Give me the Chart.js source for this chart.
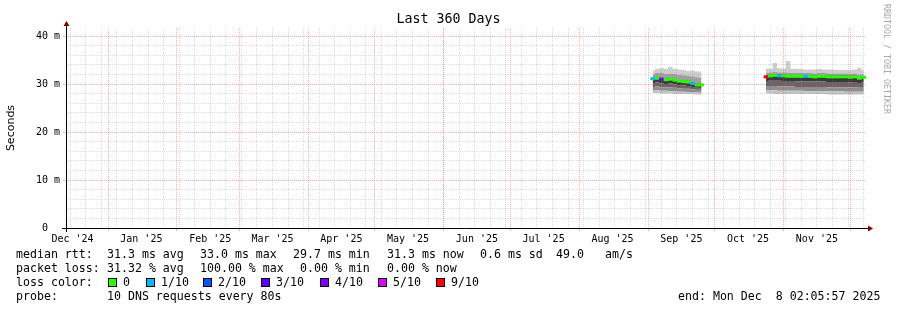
<!DOCTYPE html>
<html>
<head>
<meta charset="utf-8">
<script src="https://cdn.jsdelivr.net/npm/chart.js@4.4.0/dist/chart.umd.min.js"></script>
<style>
  html, body { margin: 0; padding: 0; background: #fff; }
  #wrap { position: relative; width: 897px; height: 310px; overflow: hidden;
          font-family: 'DejaVu Sans Mono', monospace; color: #000; }
  #wrap canvas { position: absolute; left: 0; top: 0; }
  .t { position: absolute; white-space: pre; font-size: 11.6px; line-height: 14px; }
  .sq { position: absolute; width: 7px; height: 7px; border: 1px solid #000; }
  #title { position: absolute; left: 0; top: 11px; width: 897px; text-align: center;
           font-size: 13.3px; line-height: 16px; }
  #ylab { position: absolute; left: -39px; top: 121px; width: 100px; text-align: center;
          font-family: 'DejaVu Sans', sans-serif; font-size: 11px; line-height: 14px;
          transform: rotate(-90deg); }
  #mark { position: absolute; left: 882px; top: 4px; writing-mode: vertical-rl;
          font-size: 8.3px; line-height: 9px; color: #a8a8a8; white-space: pre; }
</style>
</head>
<body>
<div id="wrap">
  <canvas id="graph" width="897" height="310"></canvas>
  <div id="title">Last 360 Days</div>
  <div id="ylab">Seconds</div>
  <div id="mark">RRDTOOL / TOBI OETIKER</div>
  <div id="legend"></div>
</div>
<script>
// 360 days ending Mon Dec 8 02:05:57 2025; x values are days since the start
const rangeStart = Date.UTC(2024, 11, 13, 2, 5, 57);
const rangeDays = 360;
const DAY = 86400000;

const monthStarts = ['2024-12-01', '2025-01-01', '2025-02-01', '2025-03-01', '2025-04-01', '2025-05-01',
  '2025-06-01', '2025-07-01', '2025-08-01', '2025-09-01', '2025-10-01', '2025-11-01', '2025-12-01'];
const monthLabels = ["Dec '24", "Jan '25", "Feb '25", "Mar '25", "Apr '25", "May '25",
  "Jun '25", "Jul '25", "Aug '25", "Sep '25", "Oct '25", "Nov '25"];
const firstSunday = '2024-12-15';
const yMax = 41.667; // ms

// smoke, first block (early Sep 2025)
const seg1Days = [264, 266, 268, 270, 272, 274, 276, 278, 280, 282, 284, 286];
const seg1Min  = [28.1, 28.1, 28.0, 28.0, 28.0, 27.9, 27.9, 27.9, 27.9, 27.9, 27.8, 27.8];
const seg1E1   = [28.6, 28.7, 28.6, 28.6, 28.5, 28.5, 28.4, 28.4, 28.3, 28.3, 28.3, 28.2];
const seg1E2   = [29.4, 29.5, 29.3, 29.3, 29.3, 29.2, 29.1, 29.0, 29.0, 28.9, 28.8, 28.7];
const seg1E3   = [30.2, 30.3, 30.1, 30.0, 30.1, 29.9, 29.8, 29.7, 29.6, 29.4, 29.2, 29.1];
const seg1E4   = [31.4, 31.5, 31.3, 31.2, 31.3, 31.1, 30.9, 30.8, 30.7, 30.4, 30.1, 30.1];
const seg1E5   = [32.0, 32.3, 32.3, 32.1, 32.2, 32.1, 31.9, 31.8, 31.7, 31.6, 31.4, 31.3];
const seg1Max  = [32.8, 33.2, 33.3, 33.2, 33.6, 33.1, 33.0, 32.9, 32.7, 32.8, 32.6, 32.6];
const seg1Median = [31.1, 31.2, 31.0, 30.9, 31.0, 30.8, 30.6, 30.5, 30.4, 30.1, 29.8, 29.8];
const seg1Loss = [1, 0, 3, 0, 0, 0, 0, 0, 0, 1, 0, 0];

// smoke, second block (late Oct - Dec 2025)
const seg2Days = [315, 317, 319, 321, 323, 325, 327, 329, 331, 333, 335, 337,
  339, 341, 343, 345, 347, 349, 351, 353, 355, 357, 359];
const seg2Min  = [28.0, 28.0, 27.9, 27.9, 27.9, 27.9, 27.9, 27.9, 27.9, 27.9, 27.9, 27.9,
  27.9, 27.9, 27.8, 27.8, 27.8, 27.8, 27.8, 27.8, 27.8, 27.8, 27.8];
const seg2E1   = [28.7, 28.7, 28.7, 28.6, 28.6, 28.6, 28.6, 28.6, 28.6, 28.5, 28.5, 28.5,
  28.5, 28.5, 28.5, 28.5, 28.5, 28.5, 28.4, 28.4, 28.4, 28.4, 28.4];
const seg2E2   = [29.6, 29.6, 29.6, 29.5, 29.5, 29.5, 29.5, 29.4, 29.4, 29.4, 29.4, 29.4,
  29.4, 29.4, 29.3, 29.3, 29.3, 29.3, 29.3, 29.3, 29.3, 29.2, 29.2];
const seg2E3   = [30.6, 30.7, 30.7, 30.7, 30.6, 30.6, 30.6, 30.5, 30.5, 30.5, 30.5, 30.5,
  30.5, 30.5, 30.4, 30.4, 30.4, 30.4, 30.4, 30.3, 30.4, 30.2, 30.3];
const seg2E4   = [31.8, 32.0, 32.1, 32.0, 32.0, 31.9, 31.9, 31.9, 31.9, 31.9, 31.9, 31.8,
  31.9, 31.9, 31.8, 31.8, 31.8, 31.8, 31.8, 31.7, 31.8, 31.5, 31.7];
const seg2E5   = [32.3, 32.4, 32.5, 32.4, 32.4, 32.4, 32.3, 32.3, 32.3, 32.3, 32.3, 32.2,
  32.3, 32.3, 32.2, 32.2, 32.2, 32.2, 32.2, 32.1, 32.2, 32.0, 32.1];
const seg2Max  = [33.2, 33.2, 34.4, 33.3, 33.2, 34.8, 33.2, 33.1, 33.1, 33.0, 33.0, 33.0,
  33.1, 33.0, 33.0, 33.0, 32.9, 32.9, 32.9, 32.9, 33.0, 33.4, 32.9];
const seg2Median = [31.5, 31.7, 31.8, 31.7, 31.7, 31.6, 31.6, 31.6, 31.6, 31.6, 31.6, 31.5,
  31.6, 31.6, 31.5, 31.5, 31.5, 31.5, 31.5, 31.4, 31.5, 31.2, 31.4];
const seg2Loss = [9, 0, 0, 1, 0, 0, 0, 0, 0, 1, 0, 0, 0, 0, 0, 0, 0, 0, 0, 0, 0, 0, 0];

// loss colour legend (lost pings out of 10)
const lossSteps  = [0, 1, 2, 3, 4, 5, 9];
const lossLabels = ['0', '1/10', '2/10', '3/10', '4/10', '5/10', '9/10'];
const lossColors = ['#26ff00', '#00b8ff', '#0059ff', '#5e00ff', '#7e00ff', '#dd00ff', '#ff0000'];

// lowest band first
const bandColors = ['#c4c4c4', '#8e8e8e', '#666666', '#3a3a3a', '#a0a0a0', '#cdcdcd'];

function dayOf(s) { return (Date.parse(s + 'T00:00:00Z') - rangeStart) / DAY; }
function lossColor(l) { return lossColors[lossSteps.indexOf(l)]; }

function smoke(days, edges) {
  return edges.map((vals, i) => ({
    order: 1,
    data: days.map((d, j) => ({ x: d, y: vals[j] })),
    fill: i === 0 ? false : '-1',
    backgroundColor: i === 0 ? 'rgba(0,0,0,0)' : bandColors[i - 1],
    borderColor: 'rgba(0,0,0,0)',
    borderWidth: 0,
    pointRadius: 0,
    stepped: 'middle'
  }));
}

function median(days, vals, loss) {
  return {
    order: 0,
    data: days.map((d, j) => ({ x: d, y: vals[j] })),
    showLine: false,
    pointStyle: 'line',
    pointRadius: 2.4,
    pointBorderWidth: 3,
    pointBorderColor: loss.map(lossColor)
  };
}

const datasets = [
  ...smoke(seg1Days, [seg1Min, seg1E1, seg1E2, seg1E3, seg1E4, seg1E5, seg1Max]),
  ...smoke(seg2Days, [seg2Min, seg2E1, seg2E2, seg2E3, seg2E4, seg2E5, seg2Max]),
  median(seg1Days, seg1Median, seg1Loss),
  median(seg2Days, seg2Median, seg2Loss)
];

const GRID = 'rgba(140,140,140,0.32)';
const MGRID = 'rgba(255,40,40,0.38)';
const CLEAR = 'rgba(0,0,0,0)';

// axis lines with the little arrow heads
const rrdAxes = {
  id: 'rrdAxes',
  afterDraw(chart) {
    const { ctx, chartArea: a } = chart;
    ctx.save();
    ctx.strokeStyle = '#000';
    ctx.lineWidth = 1;
    ctx.beginPath();
    ctx.moveTo(a.left - 4, a.bottom + 0.5);
    ctx.lineTo(a.right + 3, a.bottom + 0.5);
    ctx.moveTo(a.left + 0.5, a.bottom + 4);
    ctx.lineTo(a.left + 0.5, a.top - 3);
    ctx.stroke();
    ctx.fillStyle = '#800000';
    ctx.beginPath();
    ctx.moveTo(a.right + 2, a.bottom - 2.5);
    ctx.lineTo(a.right + 7, a.bottom + 0.5);
    ctx.lineTo(a.right + 2, a.bottom + 3.5);
    ctx.closePath();
    ctx.fill();
    ctx.beginPath();
    ctx.moveTo(a.left - 2.5, a.top - 2);
    ctx.lineTo(a.left + 0.5, a.top - 7);
    ctx.lineTo(a.left + 3.5, a.top - 2);
    ctx.closePath();
    ctx.fill();
    ctx.restore();
  }
};

new Chart(document.getElementById('graph'), {
  type: 'line',
  data: { datasets: datasets },
  options: {
    responsive: false,
    animation: false,
    devicePixelRatio: 1,
    events: [],
    layout: { padding: { top: 28, right: 31, left: 0, bottom: 0 } },
    plugins: { legend: { display: false }, tooltip: { enabled: false }, title: { display: false } },
    scales: {
      x: {
        type: 'linear', min: 0, max: rangeDays,
        afterFit: s => { s.height = 82; },
        afterBuildTicks: s => {
          const t = [];
          for (let d = dayOf(firstSunday); d < rangeDays; d += 7) t.push({ value: d, kind: 'w' });
          monthStarts.forEach((m, i) => {
            const d = dayOf(m);
            if (d > 0 && d < rangeDays) t.push({ value: d, kind: 'm' });
            // rrdtool centres a month label 15 days after the month starts
            if (i < monthLabels.length) t.push({ value: d + 15, kind: 'l', text: monthLabels[i] });
          });
          s.ticks = t.sort((p, q) => p.value - q.value);
        },
        border: { display: false, dash: [1, 1] },
        grid: {
          z: 1,
          color: c => c.tick && c.tick.kind === 'm' ? MGRID : c.tick && c.tick.kind === 'w' ? GRID : CLEAR,
          tickColor: c => c.tick && c.tick.kind === 'm' ? MGRID : CLEAR,
          tickLength: 3
        },
        ticks: {
          autoSkip: false, maxRotation: 0, padding: 2, color: '#000',
          font: { family: 'DejaVu Sans Mono', size: 10 },
          callback: (v, i, ticks) => ticks[i].kind === 'l' ? ticks[i].text : ''
        }
      },
      y: {
        min: 0, max: yMax,
        afterFit: s => { s.width = 66; },
        afterBuildTicks: s => {
          const t = [];
          for (let v = 0; v <= 40; v += 2) t.push({ value: v });
          s.ticks = t;
        },
        border: { display: false, dash: [1, 1] },
        grid: {
          z: 1,
          color: c => c.tick && c.tick.value % 10 === 0 ? MGRID : GRID,
          tickColor: c => c.tick && c.tick.value % 10 === 0 ? MGRID : CLEAR,
          tickLength: 3
        },
        ticks: {
          autoSkip: false, padding: 3, color: '#000',
          font: { family: 'DejaVu Sans Mono', size: 10 },
          callback: v => v % 10 !== 0 ? '' : (v === 0 ? '0  ' : v + ' m')
        }
      }
    }
  },
  plugins: [rrdAxes]
});

// legend lines under the graph, like smokeping prints them
const legend = document.getElementById('legend');
function put(text, x, y) {
  const el = document.createElement('div');
  el.className = 't';
  el.textContent = text;
  el.style.left = x + 'px';
  el.style.top = y + 'px';
  legend.appendChild(el);
}
put('median rtt:', 16, 247);
put('31.3 ms avg', 107, 247);
put('33.0 ms max', 200, 247);
put('29.7 ms min', 293, 247);
put('31.3 ms now', 387, 247);
put('0.6 ms sd', 480, 247);
put('49.0', 556, 247);
put('am/s', 605, 247);

put('packet loss:', 16, 261);
put('31.32 % avg', 107, 261);
put('100.00 % max', 200, 261);
put('0.00 % min', 300, 261);
put('0.00 % now', 387, 261);

put('loss color:', 16, 275);
const swatchX = [108, 146, 203, 261, 320, 378, 436];
lossLabels.forEach((lab, i) => {
  const sq = document.createElement('div');
  sq.className = 'sq';
  sq.style.left = swatchX[i] + 'px';
  sq.style.top = '278px';
  sq.style.background = lossColors[i];
  legend.appendChild(sq);
  put(lab, swatchX[i] + 15, 275);
});

put('probe:', 16, 289);
put('10 DNS requests every 80s', 107, 289);
put('end: Mon Dec  8 02:05:57 2025', 678, 289);
</script>
</body>
</html>
